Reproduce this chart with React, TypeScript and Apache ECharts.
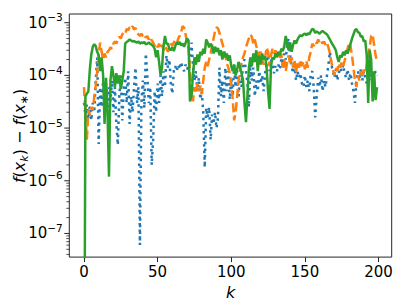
import React, { useEffect, useRef } from 'react';
import * as echarts from 'echarts';

const X_MIN = -9.95;
const X_MAX = 208.95;
const Y_MIN = 3.56e-8;
const Y_MAX = 1.462e-3;

const xTicks = [0, 50, 100, 150, 200];
const yMajor = [1e-7, 1e-6, 1e-5, 1e-4, 1e-3];
const yExp = ['−7', '−6', '−5', '−4', '−3'];
const yMinorMant = [2, 3, 4, 5, 6, 7, 8, 9];
const yMinorDecades = [1e-8, 1e-7, 1e-6, 1e-5, 1e-4, 1e-3];

const blue = [
  3.0e-5, 1.8e-5, 2.8e-5, 1.5e-5, 2.6e-5, 1.4e-5, 3.0e-5, 2.0e-5, 8.0e-5, 2.2e-4,
  5.0e-6, 6.0e-5, 2.5e-5, 8.0e-5, 3.0e-5, 7.0e-5, 2.4e-5, 6.0e-5, 3.2e-5, 8.0e-5,
  2.0e-5, 6.0e-5, 1.2e-5, 4.8e-6, 4.0e-5, 1.0e-4, 1.4e-5, 5.0e-5, 9.0e-5, 3.0e-5,
  1.2e-4, 1.2e-5, 4.0e-5, 2.0e-5, 6.0e-5, 1.4e-4, 3.0e-5, 6.0e-5, 6.05e-8, 3.0e-5,
  8.0e-5, 2.4e-5, 2.6e-4, 1.0e-4, 3.0e-5, 6.0e-5, 2.0e-6, 6.0e-6, 5.0e-5, 2.0e-5,
  7.0e-5, 3.0e-5, 1.0e-4, 4.0e-5, 1.2e-4, 6.0e-5, 2.4e-4, 1.4e-4, 2.0e-4, 7.0e-5,
  4.5e-5, 1.2e-4, 1.5e-4, 1.2e-4, 1.6e-4, 1.3e-4, 1.8e-4, 1.4e-4, 1.2e-4, 1.6e-4,
  1.3e-4, 1.5e-4, 2.0e-4, 4.2e-4, 1.6e-4, 8.0e-5, 1.2e-4, 5.0e-5, 9.0e-5, 3.5e-5,
  5.0e-5, 2.0e-5, 1.8e-6, 2.4e-5, 1.6e-5, 2.5e-5, 6.0e-6, 1.8e-5, 1.2e-5, 2.0e-5,
  1.0e-5, 1.6e-5, 1.4e-4, 4.0e-5, 8.0e-5, 3.0e-5, 1.4e-4, 5.0e-5, 1.2e-4, 3.5e-5,
  9.0e-5, 4.0e-5, 1.6e-4, 6.0e-5, 1.2e-4, 4.0e-5, 1.0e-4, 6.0e-5, 1.8e-4, 2.0e-4,
  1.2e-4, 7.0e-5, 2.5e-5, 1.6e-4, 8.0e-5, 1.4e-4, 4.0e-5, 8.0e-5, 5.0e-5, 1.2e-4,
  7.0e-5, 1.0e-4, 5.0e-5, 1.1e-4, 1.6e-4, 2.8e-4, 1.2e-4, 2.0e-4, 1.6e-4, 1.1e-4,
  1.5e-4, 1.2e-4, 1.6e-4, 1.3e-4, 2.0e-4, 1.5e-4, 2.6e-4, 2.0e-4, 4.0e-4, 5.0e-4,
  2.4e-4, 1.5e-4, 1.1e-4, 1.6e-4, 8.0e-5, 1.2e-4, 9.0e-5, 1.1e-4, 7.0e-5, 6.0e-5,
  1.0e-4, 6.0e-5, 8.0e-5, 5.0e-5, 1.1e-4, 1.2e-4, 6.0e-5, 1.6e-5, 4.0e-5, 9.0e-5,
  6.0e-5, 1.0e-4, 5.0e-5, 8.0e-5, 6.0e-5, 1.0e-4, 1.6e-4, 2.8e-4, 1.6e-4, 1.2e-4,
  9.0e-5, 1.3e-4, 8.0e-5, 1.1e-4, 1.4e-4, 1.2e-4, 1.6e-4, 1.1e-4, 9.0e-5, 1.3e-4,
  8.0e-5, 1.1e-4, 7.0e-5, 5.0e-5, 3.0e-5, 8.0e-5, 1.2e-4, 9.0e-5, 1.3e-4, 8.0e-5,
  1.2e-4, 9.0e-5, 7.0e-5, 1.0e-4, 8.0e-5, 1.1e-4, 9.0e-5, 1.0e-4, 1.2e-4, 1.0e-4,
];

const orange = [
  6.0e-5, 2.0e-5, 6.0e-6, 2.2e-5, 1.8e-5, 2.5e-5, 2.2e-5, 4.0e-5, 6.5e-5, 1.2e-4,
  2.5e-4, 4.2e-4, 2.8e-4, 2.0e-4, 2.6e-4, 2.2e-4, 2.8e-4, 3.0e-4, 3.4e-4, 3.2e-4,
  4.0e-4, 4.4e-4, 4.0e-4, 5.0e-4, 5.4e-4, 5.0e-4, 6.0e-4, 6.6e-4, 6.2e-4, 7.6e-4,
  7.2e-4, 8.2e-4, 7.6e-4, 8.6e-4, 7.4e-4, 8.0e-4, 6.4e-4, 6.0e-4, 5.6e-4, 6.2e-4,
  5.6e-4, 6.0e-4, 5.2e-4, 5.6e-4, 4.8e-4, 5.4e-4, 4.6e-4, 4.2e-4, 3.6e-4, 4.0e-4,
  3.4e-4, 4.0e-4, 3.2e-4, 3.8e-4, 3.0e-4, 3.6e-4, 3.2e-4, 2.8e-4, 3.4e-4, 4.0e-4,
  3.6e-4, 4.2e-4, 4.6e-4, 4.0e-4, 5.0e-4, 5.6e-4, 6.6e-4, 8.6e-4, 8.0e-4, 6.0e-4,
  4.2e-4, 3.4e-4, 1.2e-4, 5.5e-5, 3.2e-5, 6.0e-5, 4.6e-5, 7.0e-5, 5.0e-5, 6.4e-5,
  4.4e-5, 8.0e-5, 1.4e-4, 1.8e-4, 1.5e-4, 2.0e-4, 2.6e-4, 3.6e-4, 5.0e-4, 7.0e-4,
  8.2e-4, 7.8e-4, 6.4e-4, 5.0e-4, 4.0e-4, 3.2e-4, 2.4e-4, 1.7e-4, 1.4e-4, 1.1e-4,
  7.0e-5, 3.5e-5, 1.4e-5, 2.0e-5, 4.0e-5, 8.0e-5, 1.3e-4, 1.7e-4, 2.2e-4, 2.6e-4,
  3.4e-4, 4.2e-4, 5.0e-4, 6.0e-4, 5.4e-4, 4.0e-4, 4.8e-4, 3.6e-4, 3.0e-4, 2.4e-4,
  2.8e-4, 2.0e-4, 1.6e-4, 2.2e-4, 3.4e-4, 2.8e-4, 1.5e-4, 2.4e-4, 3.2e-4, 2.6e-4,
  3.0e-4, 2.2e-4, 2.8e-4, 2.0e-4, 2.6e-4, 1.4e-4, 2.0e-4, 1.2e-4, 1.8e-4, 2.4e-4,
  1.6e-4, 2.2e-4, 1.4e-4, 2.0e-4, 1.1e-4, 1.8e-4, 1.4e-4, 2.0e-4, 1.5e-4, 1.8e-4,
  1.3e-4, 1.9e-4, 1.4e-4, 2.2e-4, 2.8e-4, 4.0e-4, 3.6e-4, 4.4e-4, 4.0e-4, 4.8e-4,
  4.2e-4, 4.6e-4, 4.0e-4, 4.4e-4, 3.8e-4, 4.2e-4, 3.4e-4, 2.6e-4, 1.8e-4, 1.3e-4,
  1.0e-4, 1.4e-4, 1.2e-4, 1.7e-4, 1.4e-4, 1.8e-4, 1.5e-4, 1.9e-4, 2.4e-4, 3.2e-4,
  4.2e-4, 3.6e-4, 2.4e-4, 1.4e-4, 8.0e-5, 6.0e-5, 1.0e-4, 8.0e-5, 1.2e-4, 9.0e-5,
  1.3e-4, 1.1e-4, 1.6e-4, 2.4e-4, 3.4e-4, 5.6e-4, 6.0e-4, 3.8e-4, 2.4e-4, 1.8e-4,
];

const green = [
  1e-12, 4.0e-5, 4.5e-5, 5.0e-5, 1.3e-4, 2.5e-4, 3.5e-4, 3.9e-4, 3.6e-4, 2.8e-4,
  2.4e-4, 1.2e-4, 2.2e-4, 1.0e-4, 1.2e-5, 9.0e-5, 2.0e-5, 1.2e-6, 8.0e-5, 1.5e-4,
  1.0e-4, 6.0e-5, 1.1e-4, 7.0e-5, 1.0e-4, 5.5e-5, 8.0e-5, 1.2e-4, 4.0e-4, 4.3e-4,
  4.5e-4, 4.8e-4, 4.6e-4, 4.4e-4, 4.5e-4, 4.3e-4, 4.2e-4, 4.4e-4, 4.0e-4, 4.2e-4,
  4.1e-4, 4.3e-4, 3.9e-4, 4.0e-4, 4.2e-4, 4.0e-4, 3.8e-4, 3.6e-4, 3.2e-4, 2.2e-4,
  3.0e-4, 1.8e-4, 1.0e-4, 1.4e-4, 3.5e-4, 5.6e-4, 4.0e-4, 4.0e-4, 3.2e-4, 3.0e-4,
  3.4e-4, 2.9e-4, 3.6e-4, 4.2e-4, 3.9e-4, 4.3e-4, 3.7e-4, 4.0e-4, 3.5e-4, 4.1e-4,
  5.0e-4, 4.6e-4, 3.2e-5, 4.0e-5, 1.0e-4, 2.2e-4, 1.6e-4, 2.5e-4, 1.8e-4, 2.8e-4,
  2.4e-4, 3.2e-4, 2.6e-4, 4.8e-4, 4.2e-4, 3.4e-4, 4.0e-4, 3.6e-4, 2.6e-4, 3.5e-4,
  2.8e-4, 3.3e-4, 2.4e-4, 3.0e-4, 2.0e-4, 2.8e-4, 2.2e-4, 2.6e-4, 1.9e-4, 2.4e-4,
  1.5e-4, 1.2e-4, 1.6e-4, 1.0e-4, 1.3e-4, 1.8e-4, 1.4e-4, 1.1e-4, 8.0e-5, 3.0e-5,
  1.3e-5, 4.0e-5, 1.4e-4, 2.2e-4, 1.5e-4, 2.6e-4, 1.8e-4, 3.0e-4, 1.2e-4, 2.4e-4,
  1.6e-4, 2.6e-4, 2.0e-4, 2.3e-4, 1.4e-4, 5.0e-5, 2.3e-5, 1.5e-4, 2.2e-4, 2.0e-4,
  2.6e-4, 2.2e-4, 2.8e-4, 2.4e-4, 3.2e-4, 2.9e-4, 3.6e-4, 5.6e-4, 3.8e-4, 3.0e-4,
  4.2e-4, 2.8e-4, 3.8e-4, 4.6e-4, 4.0e-4, 4.8e-4, 5.4e-4, 5.8e-4, 5.5e-4, 6.0e-4,
  6.2e-4, 5.8e-4, 6.3e-4, 6.0e-4, 6.8e-4, 7.6e-4, 7.4e-4, 6.4e-4, 6.8e-4, 6.5e-4,
  6.2e-4, 6.6e-4, 7.0e-4, 6.6e-4, 6.3e-4, 6.0e-4, 5.4e-4, 4.8e-4, 4.2e-4, 3.8e-4,
  3.4e-4, 3.0e-4, 2.2e-4, 1.8e-4, 2.4e-4, 2.2e-4, 2.8e-4, 2.4e-4, 3.0e-4, 2.6e-4,
  3.2e-4, 4.0e-4, 5.0e-4, 6.0e-4, 7.2e-4, 7.6e-4, 6.6e-4, 6.4e-4, 5.4e-4, 5.6e-4,
  4.4e-4, 4.6e-4, 2.4e-4, 3.0e-5, 3.0e-4, 2.0e-4, 3.2e-5, 1.2e-4, 3.4e-5, 6.0e-5,
];

const FONT = 'DejaVu Sans';
const INK = '#000000';
const FRAME = '#262626';
const TICK_FS = 15;
const SUP_FS = 10.5;
const LABEL_FS = 16;
const SUB_FS = 11;

function toPairs(arr: number[]) {
  return arr.map((v, i) => [i, v]);
}

export default function App() {
  const ref = useRef<HTMLDivElement>(null);

  useEffect(() => {
    const el = ref.current;
    if (!el) return;
    const chart = echarts.init(el, null, { renderer: 'svg' });
    const gridLeft = 69.3;
    const gridRight = 15.3;
    const gridTop = 14;
    const gridBottom = 47.3;

    chart.setOption({
      animation: false,
      grid: {
        left: gridLeft,
        right: gridRight,
        top: gridTop,
        bottom: gridBottom,
        show: true,
        borderColor: FRAME,
        borderWidth: 1,
        backgroundColor: 'transparent',
      },
      xAxis: {
        type: 'value',
        min: X_MIN,
        max: X_MAX,
        splitLine: { show: false },
        axisLine: { show: false },
        axisTick: {
          show: true,
          customValues: xTicks,
          length: 5,
          lineStyle: { color: FRAME, width: 1 },
        },
        axisLabel: {
          customValues: xTicks,
          fontSize: TICK_FS,
          fontFamily: FONT,
          color: INK,
          margin: 7,
        },
        name: 'k',
        nameLocation: 'middle',
        nameGap: 22,
        nameTextStyle: {
          fontSize: LABEL_FS,
          fontFamily: FONT,
          fontStyle: 'italic',
          color: INK,
        },
      },
      yAxis: {
        type: 'log',
        logBase: 10,
        min: Y_MIN,
        max: Y_MAX,
        axisLine: { show: false },
        axisTick: { show: false },
        axisLabel: { show: false },
        splitLine: { show: false },
      },
      series: [
        {
          type: 'line',
          data: toPairs(blue),
          showSymbol: false,
          symbol: 'none',
          silent: true,
          clip: true,
          lineStyle: { color: '#1f77b4', width: 2.5, type: [2.5, 4.1], cap: 'butt' },
        },
        {
          type: 'line',
          data: toPairs(orange),
          showSymbol: false,
          symbol: 'none',
          silent: true,
          clip: true,
          lineStyle: { color: '#ff7f0e', width: 2.5, type: [9.2, 4], cap: 'butt' },
        },
        {
          type: 'line',
          data: toPairs(green),
          showSymbol: false,
          symbol: 'none',
          silent: true,
          clip: true,
          lineStyle: { color: '#2ca02c', width: 2.5, type: 'solid' },
        },
      ],
    });

    const py = (v: number) => chart.convertToPixel({ yAxisIndex: 0 }, v) as number;
    const graphics: any[] = [];

    yMajor.forEach((v, i) => {
      const y = py(v);
      graphics.push({
        type: 'line',
        silent: true,
        shape: { x1: gridLeft - 5, y1: y, x2: gridLeft, y2: y },
        style: { stroke: FRAME, lineWidth: 1 },
      });
      graphics.push({
        type: 'text',
        silent: true,
        x: gridLeft - 6.5,
        y,
        style: {
          text: `{b|10}{s|${yExp[i]}}`,
          align: 'right',
          verticalAlign: 'middle',
          rich: {
            b: { fontSize: TICK_FS, fontFamily: FONT, fill: INK, lineHeight: 22, verticalAlign: 'middle' },
            s: { fontSize: SUP_FS, fontFamily: FONT, fill: INK, lineHeight: 22, verticalAlign: 'top' },
          },
        },
      });
    });

    yMinorDecades.forEach((d) => {
      yMinorMant.forEach((m) => {
        const v = m * d;
        if (v < Y_MIN || v > Y_MAX) return;
        const y = py(v);
        graphics.push({
          type: 'line',
          silent: true,
          shape: { x1: gridLeft - 3, y1: y, x2: gridLeft, y2: y },
          style: { stroke: FRAME, lineWidth: 0.8 },
        });
      });
    });

    const plotMidY = gridTop + (305 - gridTop - gridBottom) / 2;
    graphics.push({
      type: 'text',
      silent: true,
      x: 19,
      y: plotMidY,
      rotation: Math.PI / 2,
      style: {
        text: '{i|f}{n|(}{i|x}{sub|k}{n|) − }{i|f}{n|(}{i|x}{sub|∗}{n|)}',
        align: 'center',
        verticalAlign: 'middle',
        rich: {
          i: { fontSize: LABEL_FS, fontFamily: FONT, fontStyle: 'italic', fill: INK, lineHeight: 22, verticalAlign: 'middle' },
          n: { fontSize: LABEL_FS, fontFamily: FONT, fill: INK, lineHeight: 22, verticalAlign: 'middle' },
          sub: { fontSize: SUB_FS, fontFamily: FONT, fontStyle: 'italic', fill: INK, lineHeight: 22, verticalAlign: 'bottom' },
        },
      },
    });

    chart.setOption({ graphic: graphics });

    return () => {
      chart.dispose();
    };
  }, []);

  return (
    <div
      ref={ref}
      style={{ position: 'absolute', left: 0, top: 0, width: 407, height: 305 }}
    />
  );
}
